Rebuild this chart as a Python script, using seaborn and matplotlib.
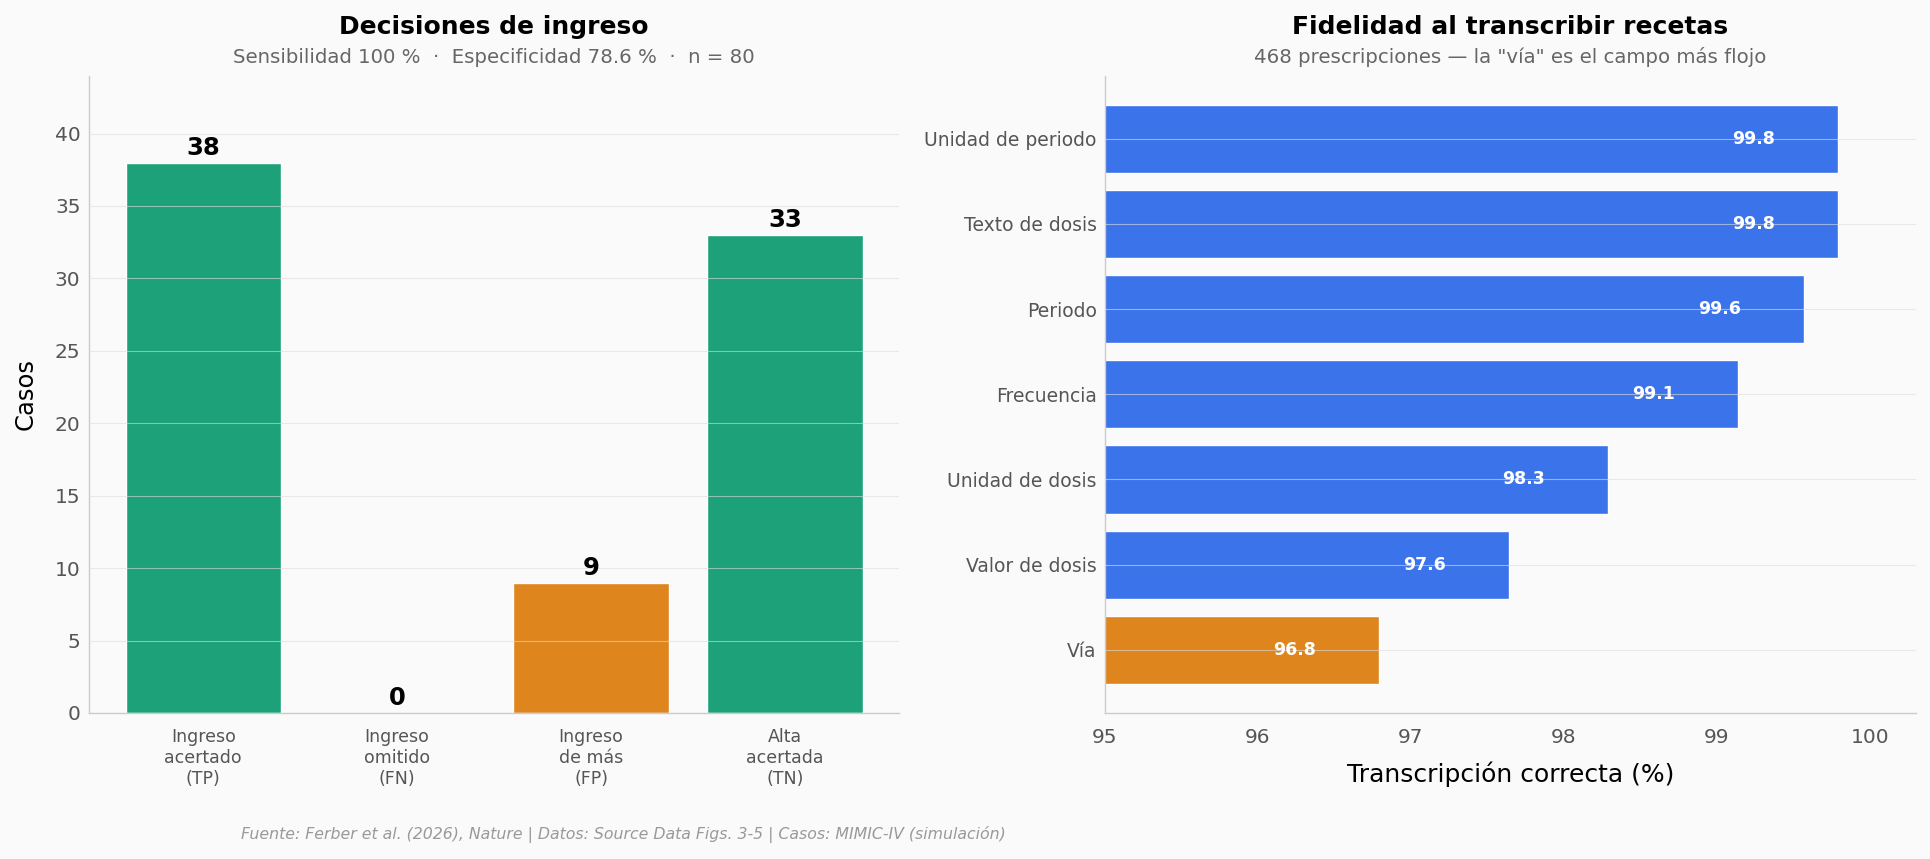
import matplotlib
matplotlib.use("Agg")
import matplotlib.pyplot as plt
import seaborn as sns
import pandas as pd

# --- data ---
decision_labels = ["Ingreso\nacertado\n(TP)", "Ingreso\nomitido\n(FN)",
                   "Ingreso\nde más\n(FP)", "Alta\nacertada\n(TN)"]
decision_counts = [38, 0, 9, 33]
decision_colors = ["#1ca178", "#1ca178", "#de851e", "#1ca178"]

fields = ["Unidad de periodo", "Texto de dosis", "Periodo", "Frecuencia",
          "Unidad de dosis", "Valor de dosis", "Vía"]
accuracy = [99.79, 99.79, 99.57, 99.14, 98.29, 97.64, 96.79]
field_colors = ["#3b73ea"] * 6 + ["#de851e"]

bg = "#fafafa"
sns.set_theme(style="white")
plt.rcParams["font.family"] = ["DejaVu Sans"]
plt.rcParams["text.color"] = "black"
plt.rcParams["axes.labelcolor"] = "black"

fig = plt.figure(figsize=(19.3, 8.59), dpi=100, facecolor=bg)
ax1 = fig.add_axes([0.046, 0.170, 0.420, 0.742])
ax2 = fig.add_axes([0.5725, 0.170, 0.420, 0.742])

def style_axis(ax):
    ax.set_facecolor(bg)
    for s in ["top", "right"]:
        ax.spines[s].set_visible(False)
    for s in ["left", "bottom"]:
        ax.spines[s].set_color("#cccccc")
        ax.spines[s].set_linewidth(1)
    ax.set_axisbelow(False)

# --- left: admission decisions ---
df1 = pd.DataFrame({"cat": decision_labels, "n": decision_counts})
sns.barplot(data=df1, x="cat", y="n", hue="cat", palette=decision_colors,
            legend=False, saturation=1, width=0.8, ax=ax1)
style_axis(ax1)
ax1.set_xlim(-0.59, 3.59)
ax1.set_ylim(0, 44)
ax1.set_yticks(range(0, 45, 5))
ax1.grid(axis="y", color="#dddddd", linewidth=0.8, alpha=0.6)
ax1.tick_params(axis="y", labelsize=14.5, labelcolor="#555555", length=0, pad=6)
ax1.tick_params(axis="x", labelsize=12.5, labelcolor="#555555", length=5,
                color="#aaaaaa", pad=6)
ax1.set_xlabel("")
ax1.set_ylabel("Casos", fontsize=17.5, labelpad=12)
for i, v in enumerate(decision_counts):
    ax1.annotate(str(v), (i, v), xytext=(0, 2), textcoords="offset points",
                 ha="center", va="bottom", fontsize=17.5, fontweight="bold")
ax1.set_title("Decisiones de ingreso", fontsize=18, fontweight="bold", pad=30)
ax1.annotate("Sensibilidad 100 %  ·  Especificidad 78.6 %  ·  n = 80",
             (0.5, 1.0), xycoords="axes fraction", xytext=(0, 9),
             textcoords="offset points", ha="center", va="baseline",
             fontsize=14.2, color="#666666")

# --- right: transcription fidelity ---
df2 = pd.DataFrame({"field": fields, "acc": accuracy})
sns.barplot(data=df2, x="acc", y="field", hue="field", palette=field_colors,
            legend=False, saturation=1, width=0.8, orient="h", ax=ax2)
style_axis(ax2)
ax2.set_xlim(95, 100.3)
ax2.set_ylim(6.74, -0.74)
ax2.set_xticks(range(95, 101))
ax2.grid(axis="y", color="#dddddd", linewidth=0.8, alpha=0.6)
ax2.tick_params(axis="x", labelsize=14.5, labelcolor="#555555", length=5,
                color="#aaaaaa", pad=6)
ax2.tick_params(axis="y", labelsize=13.5, labelcolor="#555555", length=0, pad=6)
ax2.set_ylabel("")
ax2.set_xlabel("Transcripción correcta (%)", fontsize=18, labelpad=10)
for i, v in enumerate(accuracy):
    ax2.text(v - 0.55, i, f"{v:.1f}", ha="center", va="center",
             fontsize=12.5, fontweight="bold", color="white")
ax2.set_title("Fidelidad al transcribir recetas", fontsize=18,
              fontweight="bold", pad=30)
ax2.annotate('468 prescripciones — la "vía" es el campo más flojo',
             (0.5, 1.0), xycoords="axes fraction", xytext=(0, 9),
             textcoords="offset points", ha="center", va="baseline",
             fontsize=14.2, color="#666666")

fig.text(0.323, 0.028,
         "Fuente: Ferber et al. (2026), Nature | Datos: Source Data Figs. 3-5 | Casos: MIMIC-IV (simulación)",
         ha="center", va="center", fontsize=11.3, style="italic", color="#999999")

fig.savefig("out.png", dpi=100, facecolor=bg)
